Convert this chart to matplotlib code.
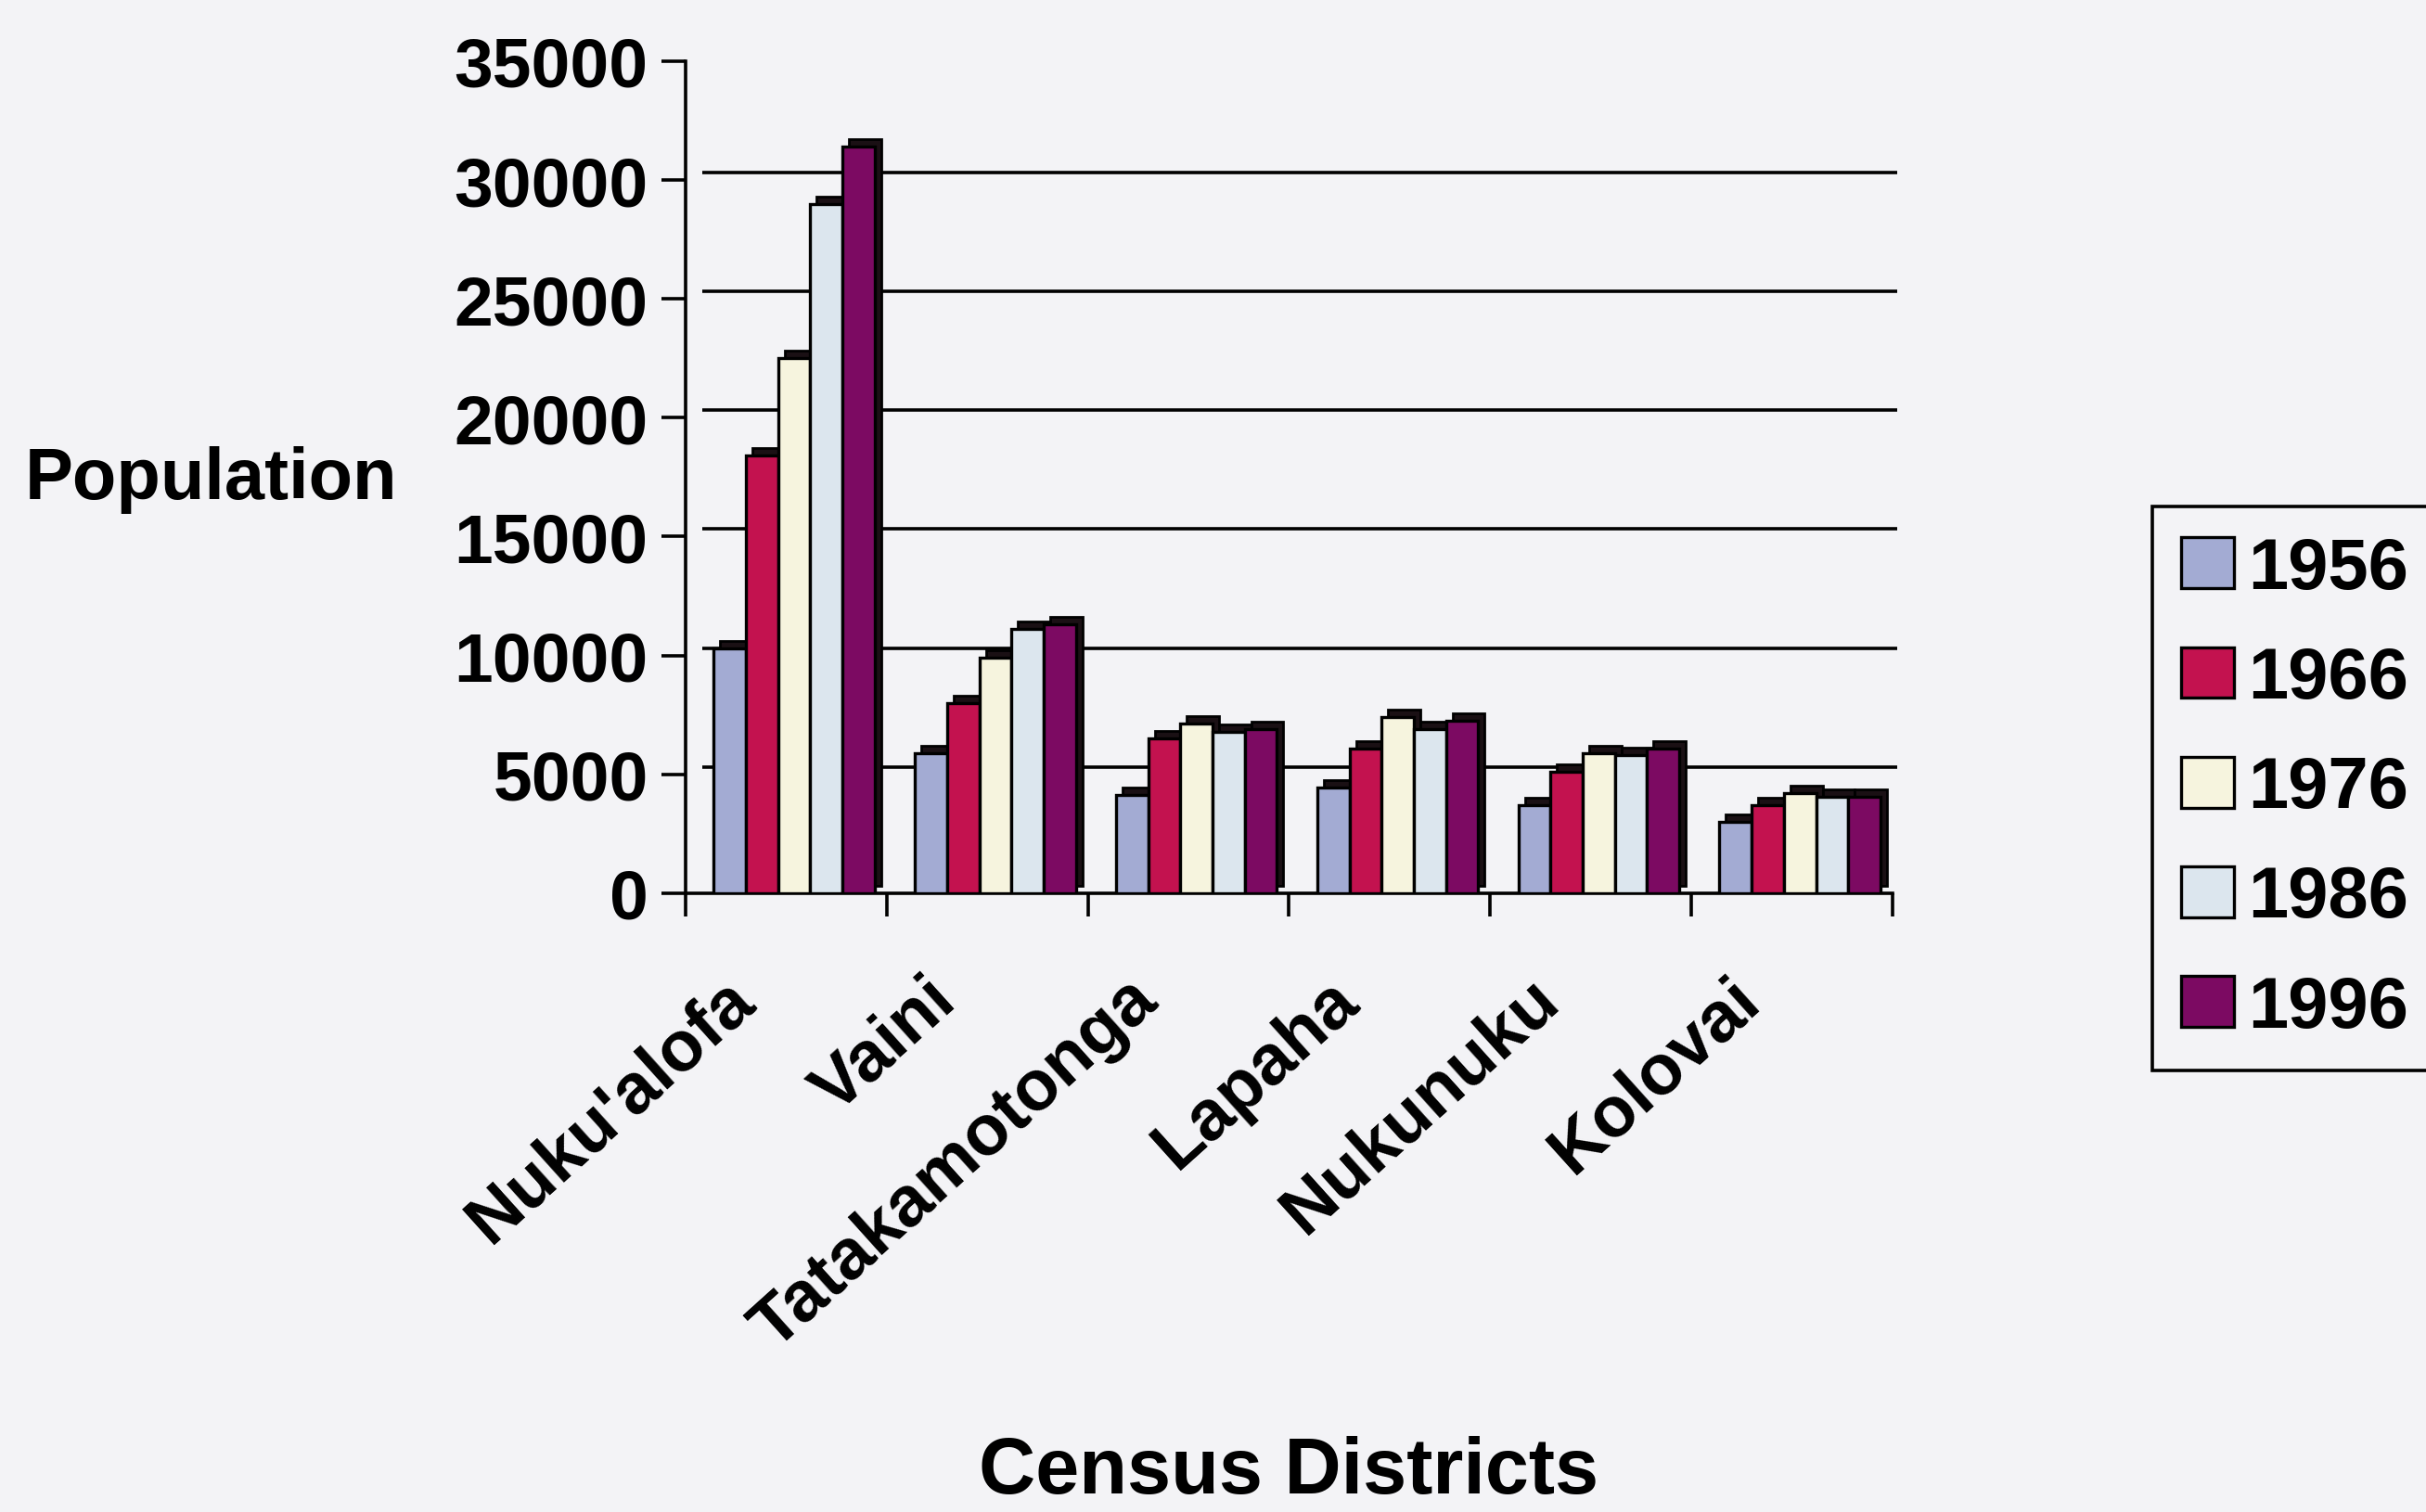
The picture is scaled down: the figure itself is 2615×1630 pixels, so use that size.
import matplotlib.pyplot as plt
import matplotlib.transforms as mtransforms
from matplotlib.patches import Patch
import numpy as np

plt.rcParams['font.family'] = ['Liberation Sans', 'DejaVu Sans']
plt.rcParams['font.weight'] = 'bold'
plt.rcParams['axes.labelweight'] = 'bold'

districts = ["Nuku'alofa", "Vaini", "Tatakamotonga", "Lapaha", "Nukunuku", "Kolovai"]
years = ["1956", "1966", "1976", "1986", "1996"]
pop_1956 = [10300, 5900, 4150, 4450, 3700, 3000]
pop_1966 = [18400, 8000, 6500, 6100, 5100, 3700]
pop_1976 = [22500, 9900, 7150, 7400, 5900, 4200]
pop_1986 = [29000, 11100, 6800, 6900, 5800, 4050]
pop_1996 = [31400, 11300, 6900, 7250, 6100, 4050]
series = [pop_1956, pop_1966, pop_1976, pop_1986, pop_1996]
colors = ['#a3abd3', '#c3124f', '#f6f4de', '#dce6ee', '#7c0a62']
yticks = [0, 5000, 10000, 15000, 20000, 25000, 30000, 35000]

bg = '#f3f3f6'
fig = plt.figure(figsize=(26.15, 16.31), dpi=100)
fig.patch.set_facecolor(bg)
ax = fig.add_axes([0.2826, 0.409, 0.4975, 0.550])
ax.set_facecolor('none')

x = np.arange(len(districts)) + 0.5
w = 0.16
# fake 3d: dark block behind each bar, shifted right/up
depth = mtransforms.ScaledTranslation(7 / 100, 8 / 100, fig.dpi_scale_trans)
back = mtransforms.ScaledTranslation(18 / 100, 8 / 100, fig.dpi_scale_trans)

for k, vals in enumerate(series):
    pos = x - 0.30 + k * w + 0.02
    ax.bar(pos, vals, width=w, color='#1a1014', edgecolor='black', linewidth=2,
           transform=ax.transData + depth, zorder=2)
    ax.bar(pos, vals, width=w, color=colors[k], edgecolor='black', linewidth=2.4, zorder=3)

# gridlines on the back wall
ax.hlines(yticks[1:-1], 0, 5.94, colors='black', linewidth=2.6,
          transform=ax.transData + back, zorder=1, clip_on=False)

ax.set_xlim(0, 6)
ax.set_ylim(0, 35000)
ax.set_yticks(yticks)
ax.set_xticks(range(7))
ax.set_xticklabels([])
ax.set_xticks(x, districts, minor=True)
ax.tick_params(axis='y', direction='out', length=19, width=2.6, pad=10, labelsize=54)
ax.tick_params(axis='x', which='major', direction='out', length=18, width=2.6)
ax.tick_params(axis='x', which='minor', length=0, pad=56, labelsize=55)
for lab in ax.get_xticklabels(minor=True):
    lab.set_rotation(42)
    lab.set_ha('right')
    lab.set_rotation_mode('anchor')
    lab.set_transform(lab.get_transform() + mtransforms.ScaledTranslation(-0.68, 0, fig.dpi_scale_trans))

for s in ['top', 'right']:
    ax.spines[s].set_visible(False)
ax.spines['left'].set_linewidth(2.6)
ax.spines['bottom'].set_linewidth(2.6)

ax.set_ylabel('Population', rotation=0, ha='center', va='center', fontsize=56)
ax.yaxis.set_label_coords(-0.393, 0.498)
ax.set_xlabel('Census Districts', fontsize=61, va='baseline')
ax.xaxis.set_label_coords(0.5, -0.72)

handles = [Patch(facecolor=c, edgecolor='black', linewidth=2.4) for c in colors]
fig.legend(handles, years, loc='upper left', bbox_to_anchor=(2320 / 2615, 1 - 547 / 1631),
           fontsize=56, frameon=True, edgecolor='black', facecolor=bg, framealpha=1,
           fancybox=False, handlelength=0.73, handleheight=0.71, handletextpad=0.2,
           labelspacing=0.58, borderpad=0.4, borderaxespad=0)
fig.legends[0].get_frame().set_linewidth(2.6)

fig.savefig('out.png', dpi=100, facecolor=bg)
